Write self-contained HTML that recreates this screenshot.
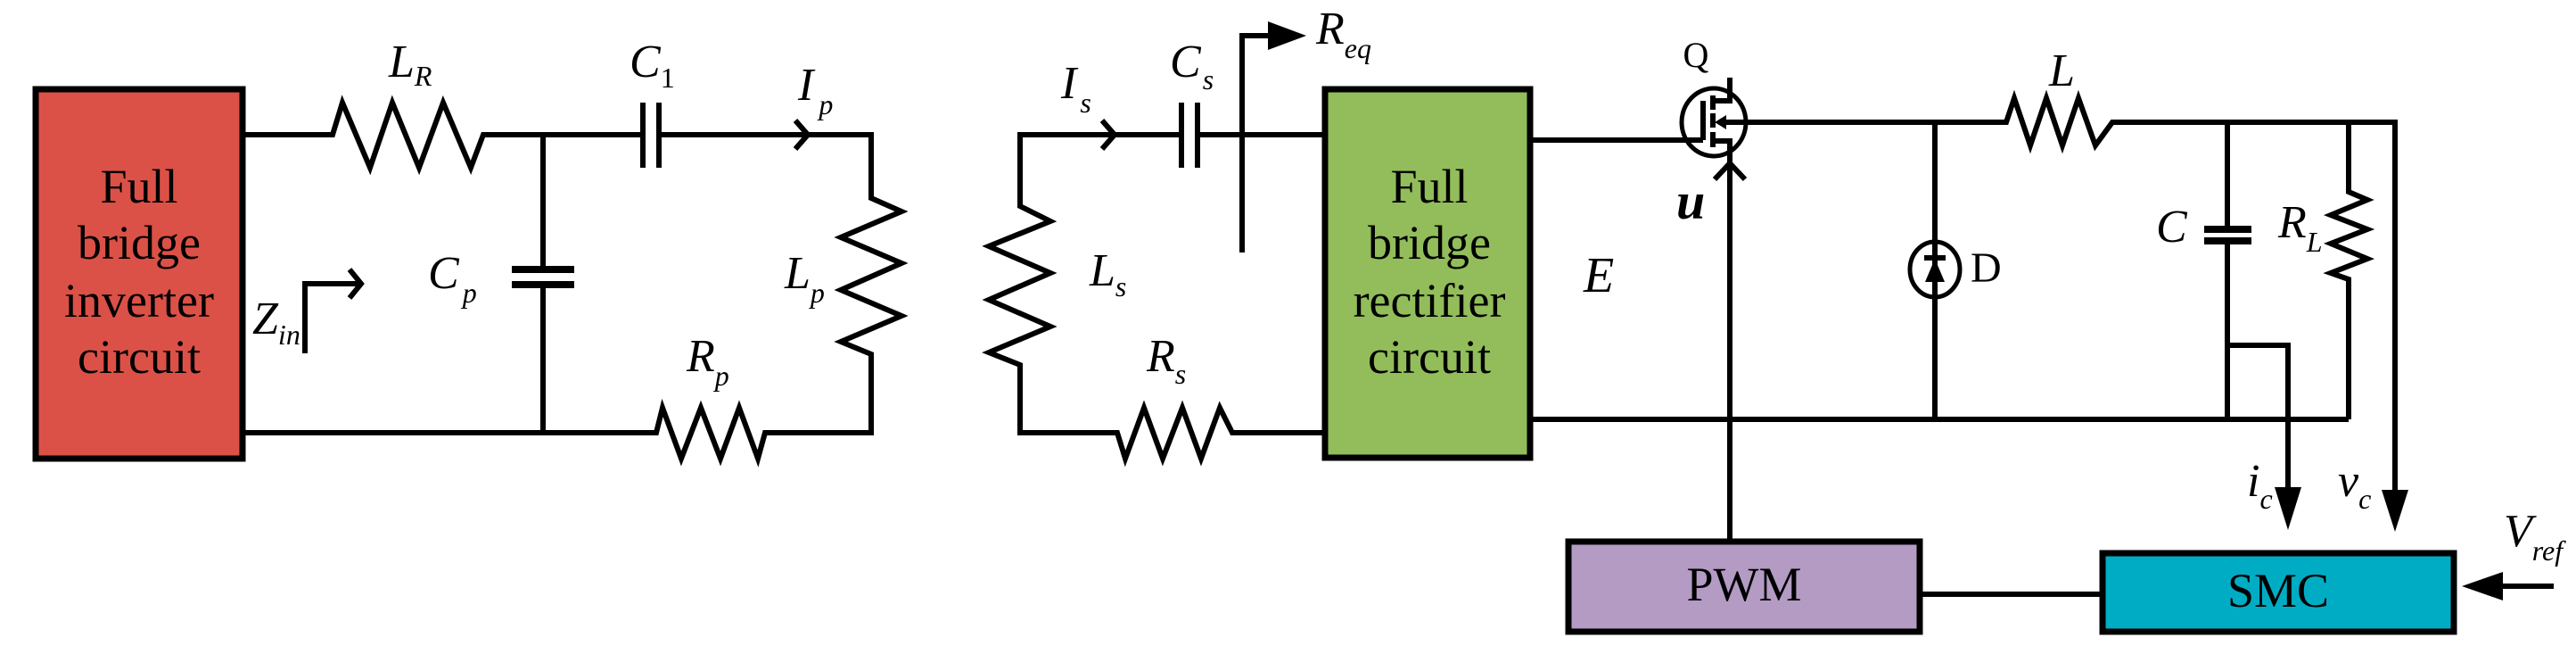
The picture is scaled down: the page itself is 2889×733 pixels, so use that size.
<!DOCTYPE html>
<html><head><meta charset="utf-8"><style>
html,body{margin:0;padding:0;background:#fff;}
svg{display:block;}
text{font-family:"Liberation Serif","Times New Roman",serif;fill:#000;}
.i{font-style:italic;}
</style></head><body>
<svg width="2889" height="733" viewBox="0 0 2889 733" xmlns="http://www.w3.org/2000/svg" font-family="Liberation Serif, serif">
<g fill="none" stroke="#000" stroke-width="6" stroke-linejoin="miter">
<polyline points="272,151 373,151 384,115 415,188 440,115 470,188 497,115 528,188 542,151 721,151"/>
<polyline points="739,151 977,151 977,222 1011,237 943,266 1011,295 943,325 1011,354 943,383 977,397 977,485 858,485 850,514 829,457 808,514 786,457 764,514 743,457 736,485 272,485"/>
<line x1="609" y1="151" x2="609" y2="302"/>
<line x1="609" y1="319" x2="609" y2="485"/>
<line x1="574" y1="302" x2="644" y2="302" stroke-width="8"/>
<line x1="574" y1="319" x2="644" y2="319" stroke-width="8"/>
<line x1="721" y1="115" x2="721" y2="188"/>
<line x1="739" y1="115" x2="739" y2="188"/>
<polyline points="892,135 906,151 892,167"/>
<polyline points="342,396 342,318 404,318"/>
<polyline points="392,302 405,318 392,334"/>
<polyline points="1325,151 1144,151 1144,231 1178,248 1109,276 1178,306 1109,336 1178,366 1109,395 1144,409 1144,485 1253,485 1262,514 1283,457 1304,514 1326,457 1347,514 1368,457 1382,485 1486,485"/>
<line x1="1343" y1="151" x2="1486" y2="151"/>
<line x1="1325" y1="115" x2="1325" y2="188"/>
<line x1="1343" y1="115" x2="1343" y2="188"/>
<polyline points="1236,135 1250,151 1236,167"/>
<polyline points="1393,283 1393,40 1425,40"/>
<line x1="1716" y1="157" x2="1910" y2="157"/>
<line x1="1910" y1="113" x2="1910" y2="157"/>
<ellipse cx="1922" cy="137" rx="36" ry="38" stroke-width="5"/>
<line x1="1921" y1="107" x2="1921" y2="123"/>
<line x1="1921" y1="127" x2="1921" y2="143"/>
<line x1="1921" y1="148" x2="1921" y2="165"/>
<polyline points="1921,113 1940,113 1940,87"/>
<polyline points="1921,158 1940,158 1940,607"/>
<polyline points="1923,201 1940,183 1957,201"/>
<polyline points="1935,137 2250,137 2259,110 2277,163 2295,110 2313,163 2331,110 2350,163 2369,137 2686,137 2686,560"/>
<line x1="2170" y1="137" x2="2170" y2="470"/>
<ellipse cx="2170" cy="302" rx="28" ry="31" stroke-width="5"/>
<line x1="2498" y1="137" x2="2498" y2="257"/>
<line x1="2498" y1="270" x2="2498" y2="470"/>
<line x1="2472" y1="257" x2="2525" y2="257" stroke-width="8"/>
<line x1="2472" y1="270" x2="2525" y2="270" stroke-width="8"/>
<polyline points="2634,137 2634,215 2655,224 2614,241 2655,257 2614,273 2655,290 2614,306 2634,313 2634,470"/>
<line x1="1716" y1="470" x2="2634" y2="470"/>
<polyline points="2498,387 2566,387 2566,550"/>
<line x1="2153" y1="666" x2="2358" y2="666"/>
<line x1="2864" y1="657" x2="2800" y2="657"/>
</g>
<polygon points="1422,24 1465,40 1422,56" fill="#000"/>
<polygon points="1923,137 1936,129 1936,145" fill="#000"/>
<polygon points="2159,316 2181,316 2170,290" fill="#000"/>
<rect x="2158" y="286" width="24" height="6" fill="#000"/>
<polygon points="2551,546 2581,546 2566,594" fill="#000"/>
<polygon points="2671,549 2701,549 2686,596" fill="#000"/>
<polygon points="2807,641 2807,673 2761,657" fill="#000"/>
<rect x="40" y="100" width="232" height="414" fill="#DB5147" stroke="#000" stroke-width="7"/>
<rect x="1486" y="100" width="230" height="413" fill="#92BD5A" stroke="#000" stroke-width="7"/>
<rect x="1759" y="607" width="394" height="101" fill="#B39BC4" stroke="#000" stroke-width="7"/>
<rect x="2358" y="620" width="394" height="88" fill="#00ACC4" stroke="#000" stroke-width="7"/>
<g font-size="54" text-anchor="middle">
<text x="156" y="227">Full</text><text x="156" y="290">bridge</text><text x="156" y="355">inverter</text><text x="156" y="418">circuit</text>
<text x="1603" y="227">Full</text><text x="1603" y="290">bridge</text><text x="1603" y="355">rectifier</text><text x="1603" y="418">circuit</text>
<text x="1956" y="673">PWM</text><text x="2555" y="680">SMC</text>
</g>
<g class="i" font-size="52" font-style="italic">
<text x="436" y="86">L<tspan font-size="32" dy="10">R</tspan></text>
<text x="706" y="86">C<tspan font-size="32" dy="12" font-style="normal">1</tspan></text>
<text x="895" y="112">I<tspan font-size="32" dx="6" dy="16">p</tspan></text>
<text x="480" y="323">C<tspan font-size="32" dx="4" dy="16">p</tspan></text>
<text x="880" y="323">L<tspan font-size="32" dy="16">p</tspan></text>
<text x="770" y="416">R<tspan font-size="32" dy="16">p</tspan></text>
<text x="283" y="374">Z<tspan font-size="32" dy="12">in</tspan></text>
<text x="1190" y="110">I<tspan font-size="32" dx="4" dy="16">s</tspan></text>
<text x="1312" y="86">C<tspan font-size="32" dx="2" dy="14">s</tspan></text>
<text x="1476" y="49">R<tspan font-size="32" dy="16">eq</tspan></text>
<text x="1222" y="320">L<tspan font-size="32" dy="12">s</tspan></text>
<text x="1286" y="416">R<tspan font-size="32" dy="14">s</tspan></text>
<text x="1776" y="327" font-size="56">E</text>
<text x="2298" y="96">L</text>
<text x="2418" y="271">C</text>
<text x="2555" y="266">R<tspan font-size="32" dy="16">L</tspan></text>
<text x="2520" y="556">i<tspan font-size="32" dy="14">c</tspan></text>
<text x="2622" y="556">v<tspan font-size="32" dy="14">c</tspan></text>
<text x="2808" y="612">V<tspan font-size="32" dy="16">ref</tspan></text>
<text x="1880" y="245" font-size="58" font-weight="bold">u</text>
</g>
<text x="1902" y="75" font-size="40" text-anchor="middle">Q</text>
<text x="2210" y="316" font-size="48">D</text>
</svg>
</body></html>
